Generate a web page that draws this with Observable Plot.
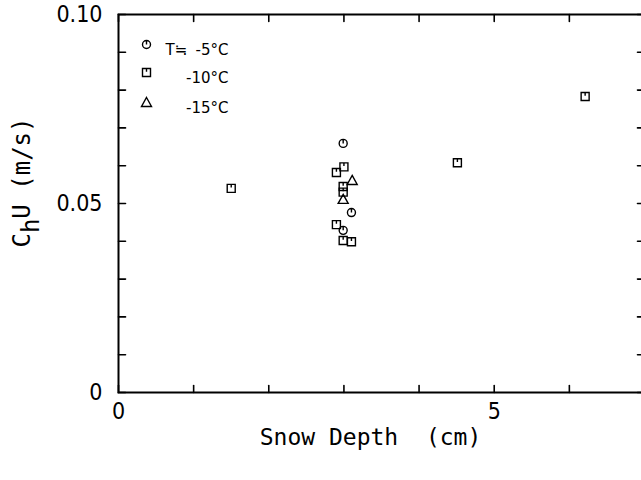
<!DOCTYPE html>
<html>
<head>
<meta charset="utf-8">
<script src="https://cdn.jsdelivr.net/npm/d3@7"></script>
<script src="https://cdn.jsdelivr.net/npm/@observablehq/plot@0.6"></script>
<style>
  html, body { margin: 0; padding: 0; background: #fff; overflow: hidden; }
</style>
</head>
<body>
<div id="chart"></div>
<script>
// Bulk transfer coefficient times wind speed vs. snow depth, by air temperature
const depthMinus5  = [2.99, 3.10, 2.99];
const chuMinus5    = [0.0659, 0.0476, 0.0429];

const depthMinus10 = [1.50, 2.90, 3.00, 2.99, 2.99, 2.90, 2.99, 3.10, 4.51, 6.21];
const chuMinus10   = [0.0540, 0.0582, 0.0597, 0.0545, 0.0530, 0.0444, 0.0402, 0.0399, 0.0608, 0.0783];

const depthMinus15 = [3.11, 2.99];
const chuMinus15   = [0.0561, 0.0511];

const legendLabels = ["-5°C", "-10°C", "-15°C"];

const xTickValues = [0, 5];
const xTickLabels = ["0", "5"];
const yTickValues = [0, 0.05, 0.10];
const yTickLabels = ["0", "0.05", "0.10"];
const xMinorTicks = [0, 1, 2, 3, 4, 5, 6, 7];
const yMinorTicks = [0, 0.01, 0.02, 0.03, 0.04, 0.05, 0.06, 0.07, 0.08, 0.09, 0.10];

const pts = (xs, ys) => xs.map((x, i) => ({x, y: ys[i]}));
const seriesMinus5 = pts(depthMinus5, chuMinus5);
const seriesMinus10 = pts(depthMinus10, chuMinus10);
const seriesMinus15 = pts(depthMinus15, chuMinus15);

// Plotter-style symbols: circle and square carry a small tick from the top
const circleTick = {
  draw(ctx, size) {
    const r = 4;
    ctx.moveTo(r, 0);
    ctx.arc(0, 0, r, 0, 2 * Math.PI);
    ctx.moveTo(0, -r);
    ctx.lineTo(0, 0);
  }
};
const squareTick = {
  draw(ctx, size) {
    const w = 4;
    ctx.moveTo(-w, -w); ctx.lineTo(w, -w); ctx.lineTo(w, w); ctx.lineTo(-w, w); ctx.closePath();
    ctx.moveTo(0, -w); ctx.lineTo(0, -w * 0.2);
  }
};
const triangle = {
  draw(ctx, size) {
    const h = 5;
    ctx.moveTo(0, -h); ctx.lineTo(h, h * 0.8); ctx.lineTo(-h, h * 0.8); ctx.closePath();
  }
};

// Inward tick marks drawn as short line vectors
const tickShape = {draw(ctx, l) { ctx.moveTo(0, 0); ctx.lineTo(0, -l); }};
const tickOpts = {length: 7, anchor: "start", shape: tickShape, stroke: "#000", strokeWidth: 1.6};

const font = "'DejaVu Sans Condensed', 'DejaVu Sans', sans-serif";
const monoFont = "'DejaVu Sans Mono', monospace";
const legendFont = "'DejaVu Sans', sans-serif";
const yLabel = "ChU (m/s)";

const chart = Plot.plot({
  width: 641,
  height: 480,
  marginLeft: 118,
  marginRight: -3,
  marginTop: 14,
  marginBottom: 88,
  style: {fontFamily: font, fontSize: "23px", color: "#000", background: "#fff"},
  x: {domain: [0, 7]},
  y: {domain: [0, 0.10]},
  marks: [
    Plot.frame({stroke: "#000", strokeWidth: 2}),
    Plot.vector(xMinorTicks, {x: d => d, y: 0, rotate: 0, ...tickOpts}),
    Plot.vector(xMinorTicks, {x: d => d, y: 0.10, rotate: 180, ...tickOpts}),
    Plot.vector(yMinorTicks, {x: 0, y: d => d, rotate: 90, ...tickOpts}),
    Plot.vector(yMinorTicks, {x: 7, y: d => d, rotate: -90, ...tickOpts}),
    Plot.axisX(xTickValues, {tickSize: 0, tickPadding: 10, label: null,
      tickFormat: d => xTickLabels[xTickValues.indexOf(d)]}),
    Plot.axisY(yTickValues, {tickSize: 0, tickPadding: 16, label: null,
      tickFormat: d => yTickLabels[yTickValues.indexOf(d)]}),
    Plot.text(["Snow Depth  (cm)"], {frameAnchor: "bottom", dx: -11, dy: 52, fontSize: 23, fontFamily: monoFont, fill: "#000"}),
    Plot.text([yLabel], {frameAnchor: "left", textAnchor: "middle", rotate: -90, dx: -96, dy: -21,
      fontSize: 24, fontFamily: monoFont, fill: "#000"}),
    Plot.dot(seriesMinus10, {x: "x", y: "y", symbol: squareTick, stroke: "#000", strokeWidth: 1.4, fill: "none"}),
    Plot.dot(seriesMinus5, {x: "x", y: "y", symbol: circleTick, stroke: "#000", strokeWidth: 1.4, fill: "none"}),
    Plot.dot(seriesMinus15, {x: "x", y: "y", symbol: triangle, stroke: "#000", strokeWidth: 1.4, fill: "none"}),
    // legend
    Plot.dot([0], {frameAnchor: "top-left", dx: 28, dy: 30, symbol: circleTick, stroke: "#000", strokeWidth: 1.4}),
    Plot.dot([0], {frameAnchor: "top-left", dx: 28, dy: 58, symbol: squareTick, stroke: "#000", strokeWidth: 1.4}),
    Plot.dot([0], {frameAnchor: "top-left", dx: 28, dy: 88, symbol: triangle, stroke: "#000", strokeWidth: 1.4}),
    Plot.text(["T≒"], {frameAnchor: "top-left", dx: 47, dy: 30, textAnchor: "start", fontSize: 15,
      fontFamily: legendFont, fill: "#000"}),
    ...legendLabels.map((t, i) => Plot.text([t], {frameAnchor: "top-left", dx: 110, dy: [30, 58, 88][i],
      textAnchor: "end", fontSize: 15, fontFamily: legendFont, fill: "#000"}))
  ]
});

// Subscript "h" in the y-axis label
for (const t of chart.querySelectorAll("text")) {
  if (t.textContent === yLabel) {
    t.textContent = "";
    const ns = "http://www.w3.org/2000/svg";
    const parts = [["C", null], ["h", "sub"], ["U (m/s)", "back"]];
    for (const [s, kind] of parts) {
      const sp = document.createElementNS(ns, "tspan");
      sp.textContent = s;
      if (kind === "sub") { sp.setAttribute("dy", "0.35em"); }
      if (kind === "back") { sp.setAttribute("dy", "-0.35em"); }
      t.appendChild(sp);
    }
  }
}

document.getElementById("chart").appendChild(chart);
</script>
</body>
</html>
